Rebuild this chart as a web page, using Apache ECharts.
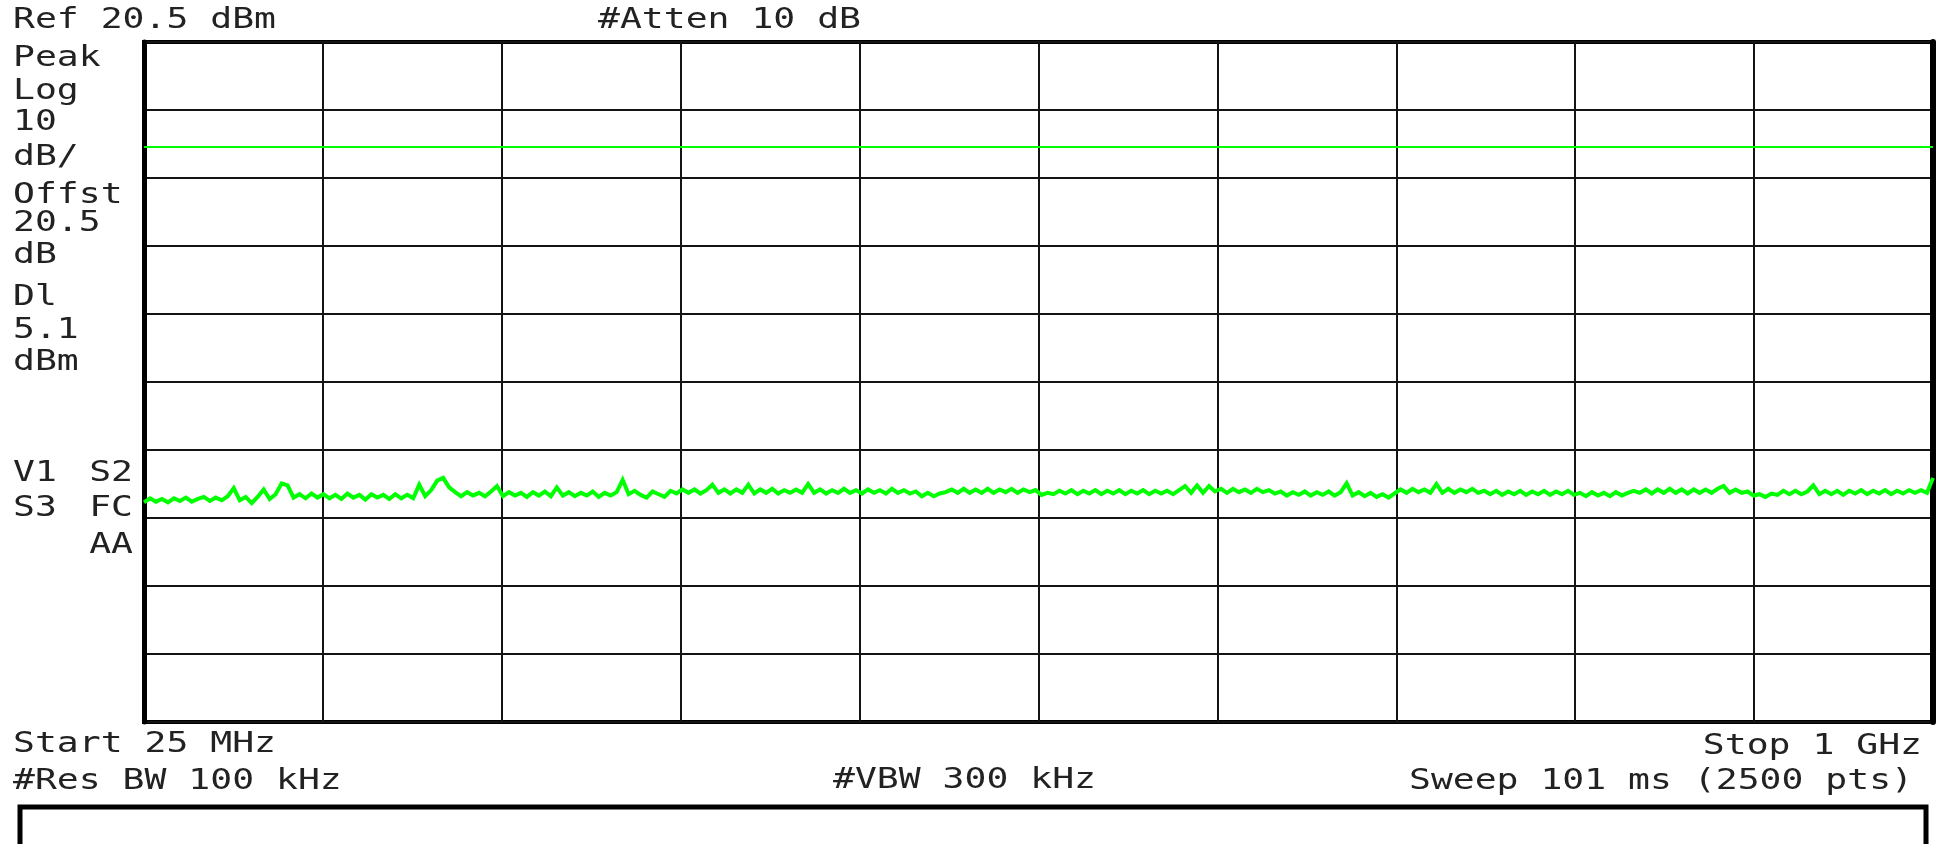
<!DOCTYPE html>
<html>
<head>
<meta charset="utf-8">
<title>Spectrum sweep 25 MHz – 1 GHz</title>
<script src="https://cdn.jsdelivr.net/npm/echarts@6/dist/echarts.min.js"></script>
<style>
  html, body { margin: 0; padding: 0; background: #ffffff; }
  #chart { width: 1940px; height: 844px; }
</style>
</head>
<body>
<div id="chart"></div>
<script>
// Instrument settings
const refLevelDbm = 20.5;
const dbPerDiv = 10;
const divisions = 10;
const attenDb = 10;
const displayLineDbm = 5.1;
const startMHz = 25;
const stopMHz = 1000;
const resBwKHz = 100;
const vbwKHz = 300;
const sweepMs = 101;
const sweepPts = 2500;

// Left-hand annotation column
const statusLines = ['Peak', 'Log', String(dbPerDiv), 'dB/', 'Offst', String(refLevelDbm), 'dB', 'Dl', String(displayLineDbm), 'dBm'];
const flagLeft = ['V1', 'S3'];
const flagRight = ['S2', 'FC', 'AA'];

// Trace levels (dBm), evenly spaced across the sweep
const traceDbm = [
  -47.2, -46.6, -47.1, -46.7, -47.2, -46.6, -47.0, -46.5, -47.1, -46.7,
  -46.4, -47.0, -46.5, -46.9, -46.3, -45.1, -46.9, -46.4, -47.3, -46.4,
  -45.3, -46.7, -46.0, -44.4, -44.7, -46.5, -46.0, -46.6, -45.9, -46.5,
  -46.0, -46.6, -46.1, -46.7, -45.9, -46.5, -46.1, -46.8, -46.0, -46.5,
  -46.1, -46.7, -46.0, -46.6, -46.1, -46.6, -44.6, -46.3, -45.4, -44.0,
  -43.6, -45.0, -45.7, -46.3, -45.7, -46.2, -45.8, -46.3, -45.6, -44.8,
  -46.3, -45.7, -46.2, -45.8, -46.4, -45.7, -46.2, -45.6, -46.3, -45.0,
  -46.2, -45.7, -46.3, -45.8, -46.2, -45.6, -46.4, -45.8, -46.2, -45.7,
  -43.9, -46.0, -45.5, -46.1, -46.5, -45.6, -46.0, -46.4, -45.5, -45.9,
  -45.3, -45.8, -45.3, -45.9, -45.4, -44.6, -45.8, -45.3, -45.9, -45.3,
  -45.8, -44.6, -45.9, -45.3, -45.8, -45.2, -45.9, -45.4, -45.8, -45.3,
  -45.8, -44.5, -45.8, -45.3, -45.9, -45.4, -45.8, -45.2, -45.8, -45.4,
  -45.9, -45.3, -45.8, -45.4, -45.9, -45.2, -45.8, -45.4, -45.9, -45.6,
  -46.3, -45.8, -46.3, -45.9, -45.7, -45.3, -45.8, -45.2, -45.8, -45.3,
  -45.8, -45.2, -45.8, -45.3, -45.7, -45.2, -45.8, -45.3, -45.7, -45.4,
  -46.1, -45.8, -46.0, -45.5, -45.9, -45.4, -46.0, -45.5, -45.9, -45.4,
  -46.0, -45.5, -45.9, -45.4, -46.0, -45.5, -45.9, -45.4, -46.0, -45.5,
  -45.9, -45.5, -46.0, -45.4, -44.8, -45.8, -44.7, -45.8, -44.8, -45.6,
  -45.2, -45.8, -45.2, -45.7, -45.3, -45.8, -45.2, -45.7, -45.4, -45.9,
  -45.6, -46.2, -45.7, -46.1, -45.6, -46.2, -45.7, -46.1, -45.6, -46.2,
  -45.7, -44.4, -46.2, -45.7, -46.3, -45.8, -46.4, -46.0, -46.5, -45.9,
  -45.3, -45.8, -45.2, -45.7, -45.3, -45.8, -44.5, -45.8, -45.2, -45.8,
  -45.3, -45.7, -45.2, -45.8, -45.5, -46.0, -45.5, -46.1, -45.6, -46.0,
  -45.5, -46.1, -45.6, -46.0, -45.5, -46.1, -45.6, -46.0, -45.5, -46.1,
  -45.8, -46.3, -45.7, -46.2, -45.8, -46.3, -45.7, -46.2, -45.8, -45.5,
  -45.8, -45.3, -45.9, -45.3, -45.8, -45.2, -45.8, -45.3, -45.9, -45.3,
  -45.8, -45.3, -45.8, -45.2, -44.8, -45.8, -45.3, -45.8, -45.6, -46.2,
  -46.0, -46.4, -45.9, -46.1, -45.5, -46.0, -45.5, -46.0, -45.6, -44.7,
  -46.0, -45.5, -46.0, -45.5, -46.1, -45.5, -45.9, -45.4, -46.0, -45.5,
  -45.9, -45.4, -46.0, -45.5, -45.9, -45.4, -45.8, -45.4, -45.8, -43.6
];

// Sweep frequency for each trace sample
const stepMHz = (stopMHz - startMHz) / (traceDbm.length - 1);
const traceData = traceDbm.map((v, i) => [startMHz + i * stepMHz, v]);

// Screen layout
const plot = { left: 144, top: 42, width: 1789, height: 680 };
const FONT = '28px "DejaVu Sans Mono", "Liberation Mono", monospace';
const TEXT_COLOR = '#222';
const WIDEN = 1.3;
const statusTops = [45, 78, 109, 144, 182, 210, 242, 284, 317, 349];

function label(text, x, y, align) {
  return {
    type: 'text',
    x: x,
    y: y,
    scaleX: WIDEN,
    silent: true,
    z: 100,
    style: {
      text: text,
      x: 0,
      y: 0,
      font: FONT,
      fill: TEXT_COLOR,
      align: align || 'left',
      textAlign: align || 'left',
      verticalAlign: 'top',
      textVerticalAlign: 'top'
    }
  };
}

const freqText = mhz => mhz >= 1000 ? (mhz / 1000) + ' GHz' : mhz + ' MHz';

const texts = [
  label('Ref ' + refLevelDbm + ' dBm', 13, 7),
  label('#Atten ' + attenDb + ' dB', 598, 7)
];
statusLines.forEach((t, i) => texts.push(label(t, 13, statusTops[i])));
texts.push(label(flagLeft[0], 13, 460));
texts.push(label(flagLeft[1], 13, 495));
texts.push(label(flagRight[0], 133, 460, 'right'));
texts.push(label(flagRight[1], 133, 495, 'right'));
texts.push(label(flagRight[2], 133, 532, 'right'));
texts.push(label('Start ' + freqText(startMHz), 13, 731));
texts.push(label('Stop ' + freqText(stopMHz), 1922, 733, 'right'));
texts.push(label('#Res BW ' + resBwKHz + ' kHz', 13, 768));
texts.push(label('#VBW ' + vbwKHz + ' kHz', 833, 767));
texts.push(label('Sweep ' + sweepMs + ' ms (' + sweepPts + ' pts)', 1913, 768, 'right'));

// Message box under the sweep settings
texts.push({
  type: 'rect',
  silent: true,
  shape: { x: 20, y: 807, width: 1906, height: 90 },
  style: { fill: 'none', stroke: '#000', lineWidth: 5 }
});

const graticule = {
  axisLine: { show: false },
  axisTick: { show: false },
  axisLabel: { show: false },
  splitLine: { show: true, lineStyle: { color: '#141414', width: 2 } }
};

const chart = echarts.init(document.getElementById('chart'), null, { renderer: 'canvas' });
chart.setOption({
  animation: false,
  backgroundColor: '#ffffff',
  grid: {
    left: plot.left, top: plot.top, width: plot.width, height: plot.height,
    show: true, borderColor: '#000', borderWidth: 4, backgroundColor: 'transparent',
    containLabel: false
  },
  xAxis: [
    { type: 'value', min: startMHz, max: stopMHz, show: false },
    Object.assign({ type: 'value', min: 0, max: divisions, interval: 1, position: 'bottom' }, graticule)
  ],
  yAxis: [
    { type: 'value', min: refLevelDbm - dbPerDiv * divisions, max: refLevelDbm, show: false },
    Object.assign({ type: 'value', min: 0, max: divisions, interval: 1, position: 'left' }, graticule,
      { axisLine: { show: true, onZero: false, lineStyle: { color: '#000', width: 5 } } }),
    { type: 'value', min: 0, max: divisions, position: 'right',
      axisLine: { show: true, onZero: false, lineStyle: { color: '#000', width: 6 } },
      axisTick: { show: false }, axisLabel: { show: false }, splitLine: { show: false } }
  ],
  series: [{
    type: 'line',
    xAxisIndex: 0,
    yAxisIndex: 0,
    data: traceData,
    showSymbol: false,
    symbol: 'none',
    silent: true,
    lineStyle: { color: '#00ff00', width: 4, join: 'miter' },
    z: 10,
    markLine: {
      silent: true,
      symbol: 'none',
      label: { show: false },
      lineStyle: { color: '#00ff00', width: 2, type: 'solid' },
      data: [{ yAxis: displayLineDbm }]
    }
  }],
  graphic: { elements: texts }
});
</script>
</body>
</html>
